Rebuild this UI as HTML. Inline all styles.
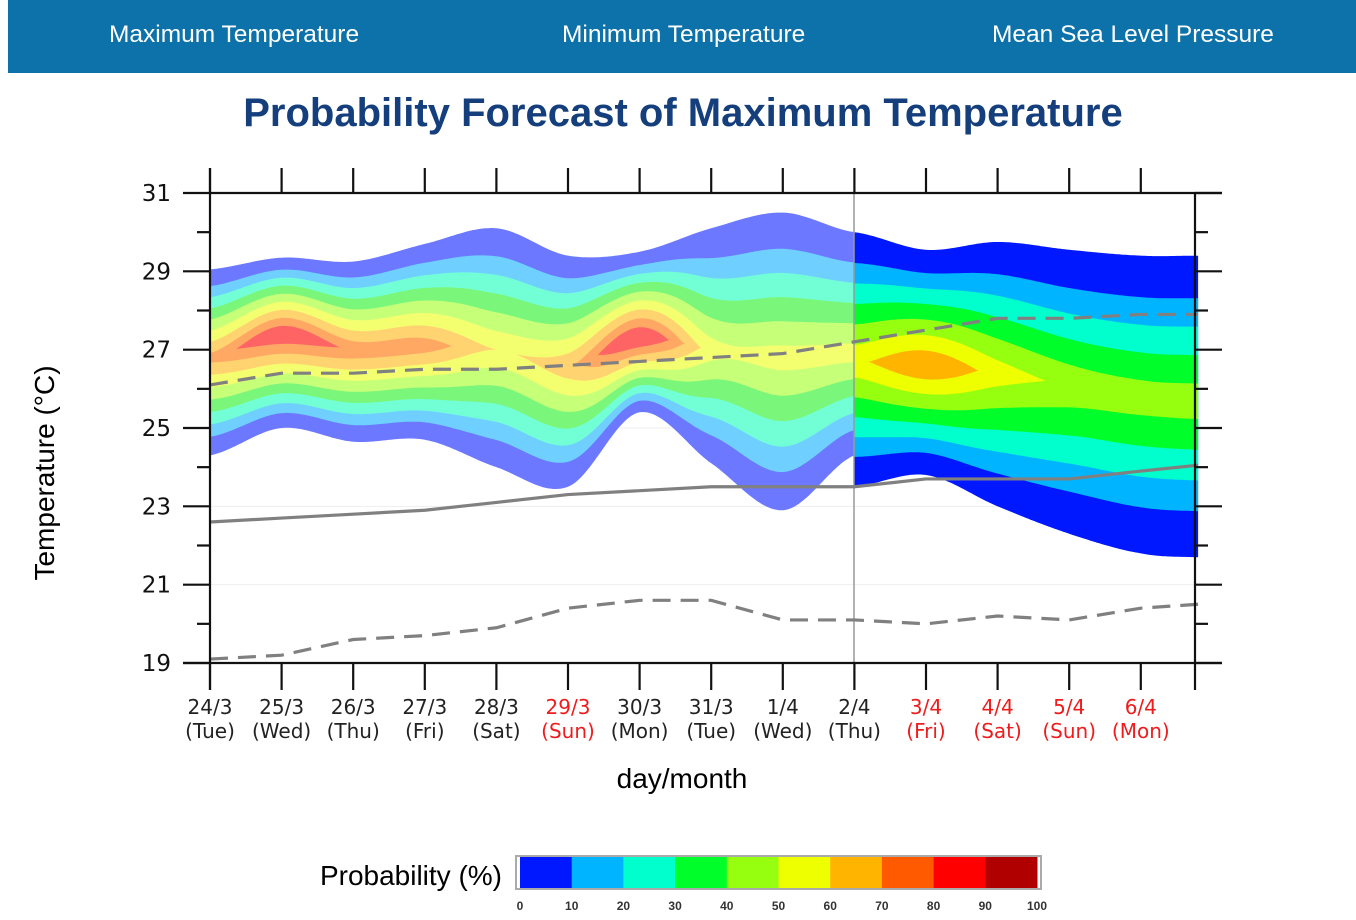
<!DOCTYPE html>
<html><head><meta charset="utf-8"><style>
body{margin:0;width:1356px;height:920px;background:#fff;font-family:"Liberation Sans",sans-serif;overflow:hidden;position:relative}
.nav{position:absolute;left:8px;top:0;width:1348px;height:73px;background:#0c72a9}
.nav div{position:absolute;top:21px;color:#fff;font-size:24.5px}
h1{position:absolute;top:91px;left:0;width:1366px;text-align:center;margin:0;font-size:40px;color:#143f7c;font-weight:bold}
</style></head><body>
<div class="nav">
<div style="left:101px">Maximum Temperature</div>
<div style="left:554px">Minimum Temperature</div>
<div style="left:984px">Mean Sea Level Pressure</div>
</div>
<h1>Probability Forecast of Maximum Temperature</h1>
<svg id="chart" width="1356" height="920" style="position:absolute;left:0;top:0"></svg>
<script>
const dayLabels=["24/3","25/3","26/3","27/3","28/3","29/3","30/3","31/3","1/4","2/4","3/4","4/4","5/4","6/4"];
const weekLabels=["(Tue)","(Wed)","(Thu)","(Fri)","(Sat)","(Sun)","(Mon)","(Tue)","(Wed)","(Thu)","(Fri)","(Sat)","(Sun)","(Mon)"];
const weekend=[0,0,0,0,0,1,0,0,0,0,1,1,1,1];
const yTicks=[19,21,23,25,27,29,31];
// plume left section (days 0..9)
const leftDays=[0,1,2,3,4,5,6,7,8,9];
const leftUpper=[29.05,29.35,29.25,29.7,30.1,29.4,29.5,30.1,30.5,30.0];
const leftLower=[24.3,25.0,24.65,24.7,24.0,23.5,25.4,24.1,22.9,24.3];
const leftCenter=[26.8,27.4,27.0,27.1,27.0,26.6,27.3,27.0,26.8,26.9];
const leftPeak=[74,90,78,76,60,68,92,56,55,55];
// plume right section (days 9..13.8)
const rightDays=[9,10,11,12,13,13.8];
const rightUpper=[30.0,29.55,29.75,29.55,29.4,29.4];
const rightLower=[23.5,23.8,23.0,22.3,21.8,21.7];
const rightCenter=[26.7,26.6,26.4,26.1,25.8,25.7];
const rightPeak=[58,69.5,56,48,46,46];
// lines
const lineDays=[0,1,2,3,4,5,6,7,8,9,10,11,12,13,13.8];
const solidLine=[22.6,22.7,22.8,22.9,23.1,23.3,23.4,23.5,23.5,23.5,23.7,23.7,23.7,23.9,24.05];
const upperDash=[26.1,26.4,26.4,26.5,26.5,26.6,26.7,26.8,26.9,27.2,27.5,27.8,27.8,27.9,27.9];
const lowerDash=[19.1,19.2,19.6,19.7,19.9,20.4,20.6,20.6,20.1,20.1,20.0,20.2,20.1,20.4,20.5];
const cbTicks=[0,10,20,30,40,50,60,70,80,90,100];

const leftColors=["#6b78ff","#6fd0ff","#72ffd6","#7af77a","#c6ff78","#f4ff70","#ffd470","#ffa864","#ff6464"];
const rightColors=["#0018ff","#00b4ff","#00ffcc","#00ff2a","#96ff10","#eeff00","#ffb400","#ff5a00","#ff0000","#b00000"];
const NS="http://www.w3.org/2000/svg";
const svg=document.getElementById('chart');
const X0=210,DX=71.6,Y31=193,Y19=663;
const xs=d=>X0+d*DX;
const ys=t=>Y19-(t-19)*(Y19-Y31)/12;
function mk(tag,attrs,parent){const e=document.createElementNS(NS,tag);for(const k in attrs)e.setAttribute(k,attrs[k]);(parent||svg).appendChild(e);return e;}
function interp(days,vals,d){
  let i=0;while(i<days.length-2&&d>days[i+1])i++;
  const t=(d-days[i])/(days[i+1]-days[i]);
  const p0=vals[Math.max(i-1,0)],p1=vals[i],p2=vals[i+1],p3=vals[Math.min(i+2,vals.length-1)];
  const t2=t*t,t3=t2*t;
  return 0.5*((2*p1)+(-p0+p2)*t+(2*p0-5*p1+4*p2-p3)*t2+(-p0+3*p1-3*p2+p3)*t3);
}
[21,23,25,27,29].forEach(v=>{const g=mk('line',{x1:210,x2:1195,y1:ys(v),y2:ys(v),stroke:'#eee','stroke-width':1});
});
function plume(days,U,L,C,P,colors,name){
  const g=mk('g',{});
  
  
  const d0=days[0],d1=days[days.length-1];
  colors.forEach((col,k)=>{
    const lvl=k*10;let top=[],bot=[];
    for(let d=d0;d<=d1+1e-6;d+=0.03){
      const u=interp(days,U,d),l=interp(days,L,d),c=interp(days,C,d),p=interp(days,P,d);
      let f=lvl===0?1:(lvl>=p?0:1-(lvl+5)/(p+5));
      top.push([xs(d),ys(c+(u-c)*f)]);bot.push([xs(d),ys(c-(c-l)*f)]);
    }
    const pts=top.concat(bot.reverse()).map(p=>p[0].toFixed(1)+','+p[1].toFixed(1)).join(' ');
    const pg=mk('polygon',{points:pts,fill:col},g);
    
    
  });
}
plume(leftDays,leftUpper,leftLower,leftCenter,leftPeak,leftColors,'plume-past');
plume(rightDays,rightUpper,rightLower,rightCenter,rightPeak,rightColors,'plume-extended');
const vd=mk('line',{x1:854,x2:854,y1:193,y2:663,stroke:'#999','stroke-width':1.5});

function series(vals,dash,name){
  const p=mk('polyline',{points:lineDays.map((d,i)=>xs(d)+','+ys(vals[i])).join(' '),fill:'none',stroke:'#808080','stroke-width':3.2,'stroke-dasharray':dash||'none'});
  
}
series(solidLine,null,'climate-mean-line');
series(upperDash,'18,10','climate-upper-line');
series(lowerDash,'18,10','climate-lower-line');
const fr=mk('g',{stroke:'#111','stroke-width':2.2,fill:'none'});

mk('line',{x1:210,x2:1222,y1:193,y2:193},fr);
mk('line',{x1:183,x2:1222,y1:663,y2:663},fr);
mk('line',{x1:210,x2:210,y1:168,y2:690},fr);
mk('line',{x1:1195,x2:1195,y1:193,y2:690},fr);
for(let i=0;i<dayLabels.length;i++){const x=xs(i);mk('line',{x1:x,x2:x,y1:168,y2:193},fr);mk('line',{x1:x,x2:x,y1:663,y2:690},fr);}
for(let v=19;v<=31;v++){const major=(v%2===1);mk('line',{x1:major?183:197,x2:210,y1:ys(v),y2:ys(v)},fr);mk('line',{x1:1195,x2:major?1222:1208,y1:ys(v),y2:ys(v)},fr);}
yTicks.forEach(v=>{const t=mk('text',{x:171,y:ys(v)+8,'text-anchor':'end','font-size':23,fill:'#111','font-family':'DejaVu Sans, sans-serif'});t.textContent=v;
});
dayLabels.forEach((l,i)=>{const col=weekend[i]?'#ee1c1c':'#222';
 const t=mk('text',{x:xs(i),y:714,'text-anchor':'middle','font-size':20,fill:col,'font-family':'DejaVu Sans, sans-serif'});t.textContent=l;
 
 const w=mk('text',{x:xs(i),y:738,'text-anchor':'middle','font-size':20,fill:col,'font-family':'DejaVu Sans, sans-serif'});w.textContent=weekLabels[i];
 });
const xt=mk('text',{x:682,y:788,'text-anchor':'middle','font-size':28,fill:'#000'});xt.textContent='day/month';

const yt=mk('text',{x:0,y:0,'text-anchor':'middle','font-size':28,fill:'#000',transform:'translate(54,473) rotate(-90)'});yt.textContent='Temperature (°C)';

const cb=mk('g',{});
mk('rect',{x:516,y:856,width:525,height:33,fill:'#fff',stroke:'#aaa','stroke-width':2},cb);
const cw=(1037-520)/10;
rightColors.forEach((c,i)=>{const r=mk('rect',{x:520+i*cw,y:857,width:cw+0.5,height:31,fill:c},cb);
});
cbTicks.forEach((v,i)=>{const t=mk('text',{x:520+i*cw,y:910,'text-anchor':'middle','font-size':12,'font-weight':'bold',fill:'#333'},cb);t.textContent=v;
});
const cl=mk('text',{x:502,y:885,'text-anchor':'end','font-size':28,fill:'#000'});cl.textContent='Probability (%)';

</script>
</body></html>
